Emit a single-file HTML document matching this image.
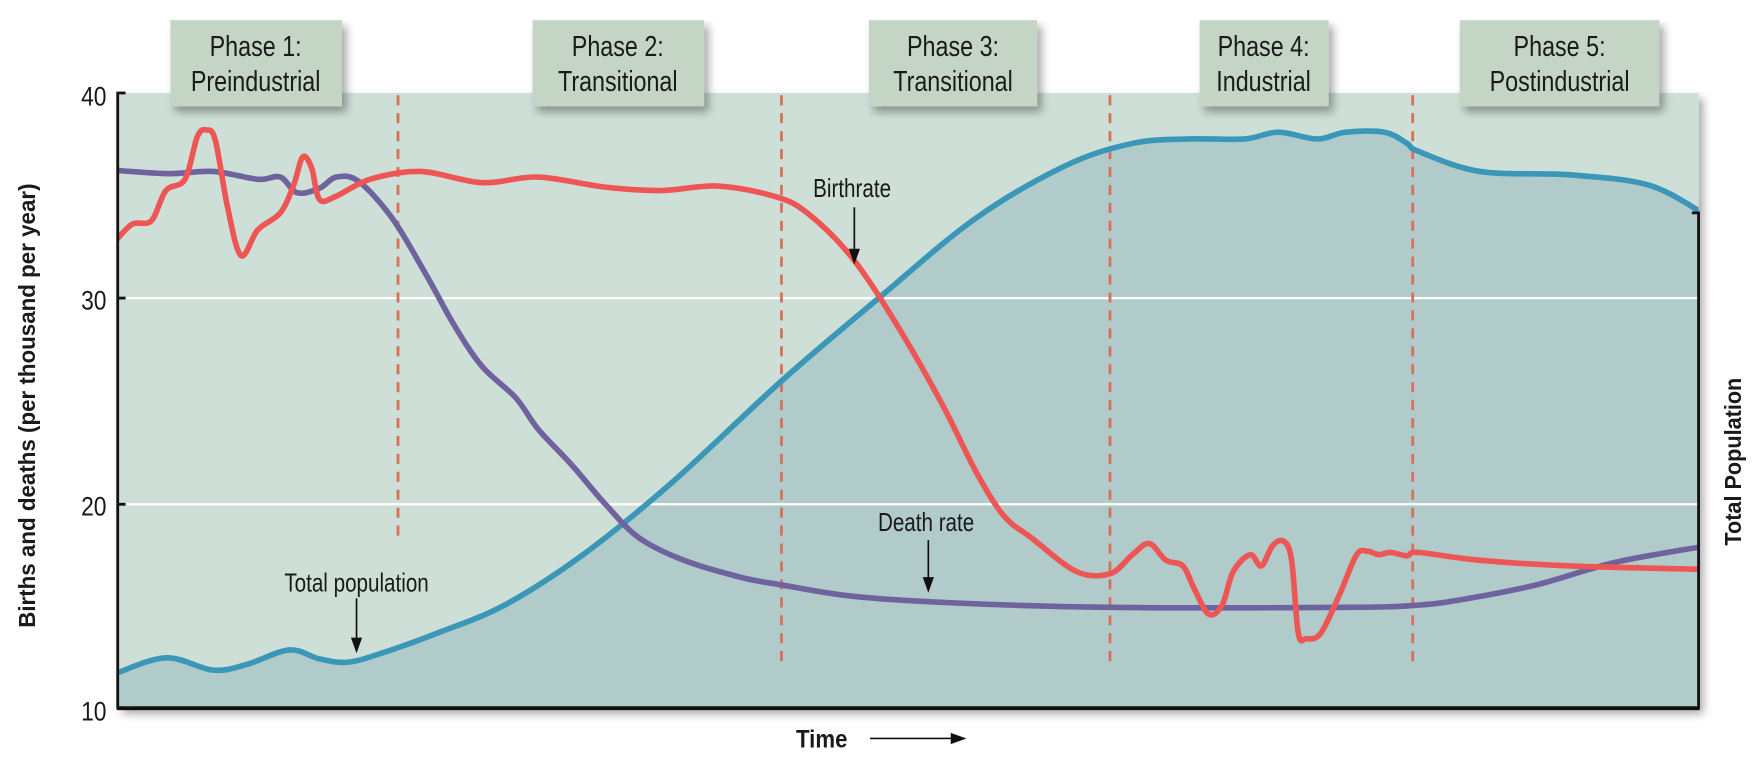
<!DOCTYPE html>
<html><head><meta charset="utf-8"><style>
html,body{margin:0;padding:0;background:#fff;width:1758px;height:762px;overflow:hidden}
svg{display:block}
text{font-family:"Liberation Sans",sans-serif;fill:#1a1a1a}
.b{font-family:"Liberation Sans",sans-serif;font-weight:bold}
</style></head><body>
<svg id="s" width="1758" height="762" viewBox="0 0 1568 680" preserveAspectRatio="none">
<defs>
<filter id="sh" x="-5%" y="-5%" width="115%" height="120%"><feGaussianBlur in="SourceAlpha" stdDeviation="4"/><feOffset dx="4" dy="5"/><feComponentTransfer><feFuncA type="linear" slope="0.35"/></feComponentTransfer><feMerge><feMergeNode/><feMergeNode in="SourceGraphic"/></feMerge></filter>
<clipPath id="cp"><rect x="105" y="83" width="1410" height="549"/></clipPath>
</defs>
<rect x="105" y="83" width="1410" height="549" fill="#cddfd6" filter="url(#sh)"/>
<g clip-path="url(#cp)">
<path id="popfill" fill="#b0cbca"/>
<line x1="105" y1="266" x2="1515" y2="266" stroke="#fff" stroke-width="2"/>
<line x1="105" y1="450" x2="1515" y2="450" stroke="#fff" stroke-width="2"/>
<g stroke="#d9705e" stroke-width="2.5" stroke-dasharray="9,7">
<line x1="355" y1="85" x2="355" y2="480"/>
<line x1="697" y1="85" x2="697" y2="597"/>
<line x1="990" y1="85" x2="990" y2="597"/>
<line x1="1260" y1="85" x2="1260" y2="597"/>
</g>
<path id="pop" fill="none" stroke="#3a97b8" stroke-width="5" stroke-linejoin="round" stroke-linecap="round"/>
<path id="death" fill="none" stroke="#6e639e" stroke-width="5" stroke-linejoin="round" stroke-linecap="round"/>
<path id="birth" fill="none" stroke="#ee5555" stroke-width="5" stroke-linejoin="round" stroke-linecap="round"/>
</g>
<g stroke="#111" stroke-width="2.5" fill="none">
<polyline points="112,83 105,83 105,632"/>
<line x1="105" y1="266" x2="112" y2="266"/>
<line x1="105" y1="450" x2="112" y2="450"/>
<polyline points="1509,190 1515,190 1515,632"/>
</g>
<line x1="104" y1="632" x2="1516" y2="632" stroke="#111" stroke-width="3.5"/>
<g font-size="24" text-anchor="end">
<text transform="translate(95,94) scale(0.85,1)">40</text><text transform="translate(95,276) scale(0.85,1)">30</text><text transform="translate(95,460) scale(0.85,1)">20</text><text transform="translate(95,643) scale(0.85,1)">10</text>
</g>
<text class="b" font-size="21" transform="translate(31,362) rotate(-90) scale(0.95,1)" text-anchor="middle">Births and deaths (per thousand per year)</text>
<text class="b" font-size="21" transform="translate(1553,412) rotate(-90) scale(0.92,1)" text-anchor="middle">Total Population</text>
<text class="b" font-size="22" transform="translate(710,667) scale(0.9,1)">Time</text>
<line x1="776" y1="659" x2="852" y2="659" stroke="#111" stroke-width="1.5"/>
<polygon points="862,659 848,654 848,664" fill="#111"/>
<g filter="url(#sh)" fill="#c4d5c6">
<rect x="152" y="18" width="153" height="77"/>
<rect x="475" y="18" width="153" height="77"/>
<rect x="775" y="18" width="150" height="77"/>
<rect x="1070" y="18" width="115" height="77"/>
<rect x="1302" y="18" width="178" height="77"/>
</g>
<g font-size="26" text-anchor="middle">
<text transform="translate(228,50) scale(0.8,1)">Phase 1:</text><text transform="translate(228,81) scale(0.8,1)">Preindustrial</text>
<text transform="translate(551,50) scale(0.8,1)">Phase 2:</text><text transform="translate(551,81) scale(0.8,1)">Transitional</text>
<text transform="translate(850,50) scale(0.8,1)">Phase 3:</text><text transform="translate(850,81) scale(0.8,1)">Transitional</text>
<text transform="translate(1127,50) scale(0.8,1)">Phase 4:</text><text transform="translate(1127,81) scale(0.8,1)">Industrial</text>
<text transform="translate(1391,50) scale(0.8,1)">Phase 5:</text><text transform="translate(1391,81) scale(0.8,1)">Postindustrial</text>
</g>
<g font-size="23" text-anchor="middle">
<text transform="translate(760,176) scale(0.8,1)">Birthrate</text>
<text transform="translate(826,474) scale(0.8,1)">Death rate</text>
<text transform="translate(318,528) scale(0.8,1)">Total population</text>
</g>
<g stroke="#111" stroke-width="1.5">
<line x1="762" y1="185" x2="762" y2="225"/><line x1="828" y1="482" x2="828" y2="518"/><line x1="318" y1="534" x2="318" y2="572"/>
</g>
<g fill="#111">
<polygon points="762,236 757,222 767,222"/><polygon points="828,529 823,515 833,515"/><polygon points="318,583 313,569 323,569"/>
</g>
</svg>
<script>
function cr(p){var d="M"+p[0][0]+","+p[0][1];for(var i=0;i<p.length-1;i++){var p0=p[i-1]||p[i],p1=p[i],p2=p[i+1],p3=p[i+2]||p2;var c1x=p1[0]+(p2[0]-p0[0])/6,c1y=p1[1]+(p2[1]-p0[1])/6,c2x=p2[0]-(p3[0]-p1[0])/6,c2y=p2[1]-(p3[1]-p1[1])/6;d+=" C"+c1x.toFixed(1)+","+c1y.toFixed(1)+" "+c2x.toFixed(1)+","+c2y.toFixed(1)+" "+p2[0]+","+p2[1];}return d;}
var pop=[[103,601],[148,587],[190,598],[220,593],[258,580],[285,588],[310,591],[340,583],[390,565],[450,540],[520,495],[600,430],[697,340],[785,265],[870,195],[950,148],[1010,128],[1060,124],[1110,124],[1140,118],[1175,124],[1200,118],[1235,118],[1255,128],[1265,135],[1320,153],[1400,156],[1470,165],[1517,189]];
var birth=[[103,215],[118,200],[135,197],[148,170],[165,160],[176,122],[184,116],[192,125],[203,185],[215,228],[230,205],[250,190],[262,165],[270,140],[278,150],[285,178],[300,175],[330,160],[375,153],[430,163],[480,158],[540,167],[590,170],[640,166],[690,175],[720,190],[760,230],[800,290],[840,360],[870,420],[895,460],[920,480],[960,510],[990,512],[1010,495],[1025,485],[1040,500],[1055,505],[1065,525],[1078,548],[1090,540],[1100,510],[1115,495],[1125,505],[1135,487],[1145,483],[1152,500],[1158,565],[1165,570],[1178,565],[1195,530],[1210,495],[1220,492],[1230,495],[1240,493],[1255,496],[1265,493],[1320,500],[1400,505],[1517,508]];
var death=[[103,152],[150,155],[190,153],[230,160],[250,158],[265,172],[285,168],[300,158],[320,162],[350,195],[380,245],[405,290],[430,327],[460,355],[480,383],[510,415],[540,450],[570,480],[610,500],[660,515],[697,522],[760,532],[850,538],[990,542],[1200,542],[1265,540],[1310,534],[1370,522],[1440,502],[1517,488]];
var dp=cr(pop);
document.getElementById("pop").setAttribute("d",dp);
document.getElementById("popfill").setAttribute("d",dp+" L1517,640 L103,640 Z");
document.getElementById("birth").setAttribute("d",cr(birth));
document.getElementById("death").setAttribute("d",cr(death));
</script>
</body></html>
